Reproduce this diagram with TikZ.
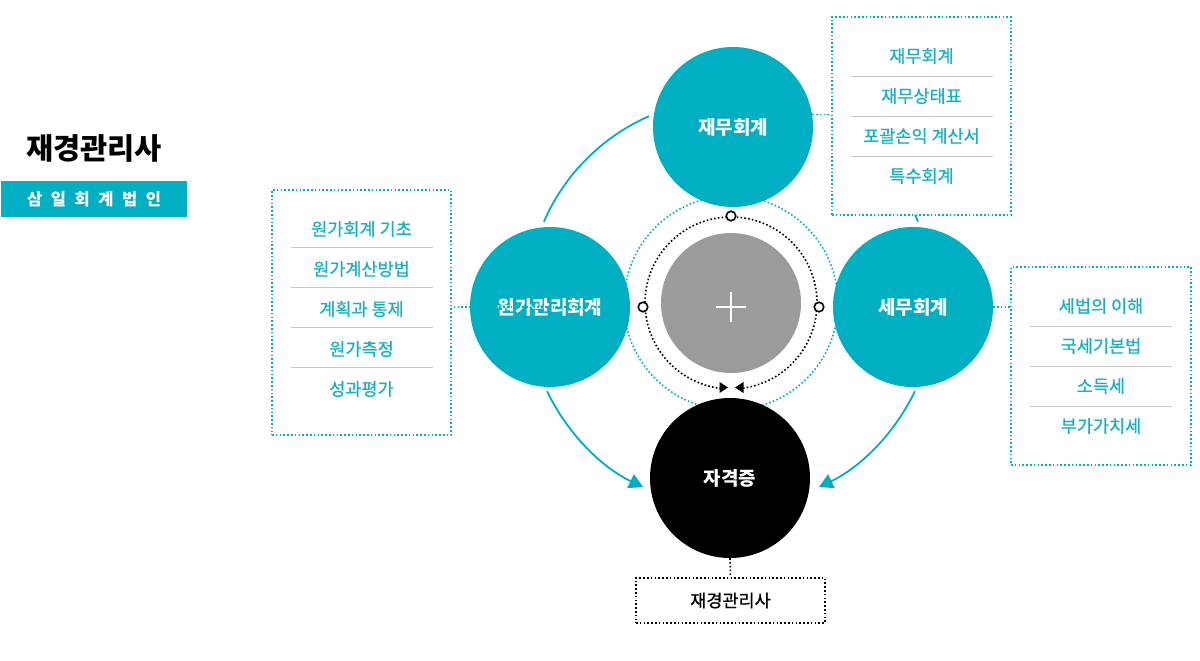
\documentclass[tikz,border=0pt]{standalone}
\usepackage{fontspec}
\setmainfont{Noto Sans CJK KR}
\newfontfamily\medfont[FakeBold=0.7]{Noto Sans CJK KR}
\usetikzlibrary{arrows.meta}
\definecolor{tealc}{HTML}{00AFC2}
\definecolor{tealt}{HTML}{1AB0C2}
\definecolor{sepc}{HTML}{CACACA}
\definecolor{grayc}{HTML}{9B9B9B}
\tikzset{
  bigcirc/.style={circle, fill=tealc, minimum size=160pt, inner sep=0pt, text=white, font=\fontsize{19}{21}\selectfont\bfseries},
  tealdot/.style={draw=tealc, line width=1.6pt, dash pattern=on 1.6pt off 2.2pt},
  blackdot/.style={draw=black, line width=1.6pt, dash pattern=on 1.6pt off 2.2pt},
  listbox/.style={rectangle, fill=white, tealdot, inner sep=0pt},
  item/.style={text=tealt, font=\fontsize{17.5}{19}\selectfont\medfont, inner sep=0pt},
  sepline/.style={draw=sepc, line width=0.8pt},
  arcline/.style={draw=tealc, line width=1.8pt},
  opendot/.style={circle, draw=black, fill=white, line width=1.6pt, minimum size=9.5pt, inner sep=0pt},
}
\begin{document}
\begin{tikzpicture}[x=1pt,y=1pt]
\useasboundingbox (0,0) rectangle (1200,-661);
% title
\node[font=\fontsize{29.5}{32}\selectfont\bfseries, inner sep=0pt] (title) at (94,-148) {재경관리사};
\node[rectangle, fill=tealc, minimum width=186pt, minimum height=36pt, inner sep=0pt, text=white, font=\fontsize{16.5}{18}\selectfont\bfseries] (banner) at (94,-199) {삼\hspace{0.52em}일\hspace{0.52em}회\hspace{0.52em}계\hspace{0.52em}법\hspace{0.52em}인};
% rings
\coordinate (c) at (731,-303);
\draw[tealdot] (c) circle[radius=107];
\draw[arcline] (c) ++(113.7:204) arc[start angle=113.7, end angle=156.5, radius=204];
\draw[arcline] (c) ++(40:204) arc[start angle=40, end angle=23.5, radius=204];
\draw[arcline, -{Triangle[length=14pt,width=15pt]}] (c) ++(205.6:204) arc[start angle=205.6, end angle=244.5, radius=204];
\draw[arcline, -{Triangle[length=14pt,width=15pt]}] (c) ++(334.4:204) arc[start angle=334.4, end angle=295.5, radius=204];
% circles
\node[bigcirc] (fin) at (733,-127) {재무회계};
\node[bigcirc] (cost) at (550,-307) {원가관리회계};
\node[bigcirc] (tax) at (913,-307) {세무회계};
\node[circle, fill=black, minimum size=160pt, inner sep=0pt, text=white, font=\fontsize{19}{21}\selectfont\bfseries] (cert) at (730,-478) {자격증};
\node[circle, fill=grayc, minimum size=140pt, inner sep=0pt] (core) at (731,-303) {};
\draw[white, line width=2.6pt] ([xshift=-15pt,yshift=-4pt]core.center) -- ([xshift=15pt,yshift=-4pt]core.center);
\draw[white, line width=2.6pt] ([yshift=11pt]core.center) -- ([yshift=-19pt]core.center);
% black dotted ring
\draw[blackdot] (c) ++(278:86) arc[start angle=278, end angle=622.6, radius=86];
\fill[black] (719.5,-382) -- (728,-387.5) -- (719.5,-393) -- cycle;
\fill[black] (743.5,-382) -- (735,-387.5) -- (743.5,-393) -- cycle;
\node[opendot] (dtop) at (731,-216) {};
\node[opendot] (dleft) at (643,-307) {};
\node[opendot] (dright) at (819,-307) {};
% boxes
\node[listbox, minimum width=179pt, minimum height=198pt] (finbox) at (921.5,-116) {};
\node[listbox, minimum width=179pt, minimum height=245pt] (costbox) at (361.5,-312.5) {};
\node[listbox, minimum width=180pt, minimum height=198pt] (taxbox) at (1101,-366) {};
\node[rectangle, fill=white, blackdot, minimum width=189pt, minimum height=45pt, inner sep=0pt, font=\fontsize{17.5}{19}\selectfont\medfont] (certbox) at (730.5,-600.5) {재경관리사};
% connectors
\draw[tealdot] (fin.9) -- (fin.9 -| finbox.west);
\draw[tealdot] (cost.east) -- (cost.east -| costbox.east);
\draw[tealdot] (tax.east) -- (tax.east -| taxbox.west);
\draw[blackdot] (cert.south) -- (certbox.north);
% fin items
\node[item] (f1) at (921.5,-56) {재무회계};
\node[item] (f2) at (921.5,-96) {재무상태표};
\node[item] (f3) at (921.5,-136) {포괄손익 계산서};
\node[item] (f4) at (921.5,-176) {특수회계};
\draw[sepline] (851,-76) -- (993,-76);
\draw[sepline] (851,-116) -- (993,-116);
\draw[sepline] (851,-156) -- (993,-156);
% cost items
\node[item] (k1) at (361.5,-229) {원가회계 기초};
\node[item] (k2) at (361.5,-269) {원가계산방법};
\node[item] (k3) at (361.5,-309) {계획과 통제};
\node[item] (k4) at (361.5,-349) {원가측정};
\node[item] (k5) at (361.5,-389) {성과평가};
\draw[sepline] (291,-247) -- (433,-247);
\draw[sepline] (291,-287) -- (433,-287);
\draw[sepline] (291,-327) -- (433,-327);
\draw[sepline] (291,-367) -- (433,-367);
% tax items
\node[item] (t1) at (1101,-306) {세법의 이해};
\node[item] (t2) at (1101,-346) {국세기본법};
\node[item] (t3) at (1101,-386) {소득세};
\node[item] (t4) at (1101,-426) {부가가치세};
\draw[sepline] (1030,-326) -- (1172,-326);
\draw[sepline] (1030,-366) -- (1172,-366);
\draw[sepline] (1030,-406) -- (1172,-406);
\end{tikzpicture}
\end{document}
